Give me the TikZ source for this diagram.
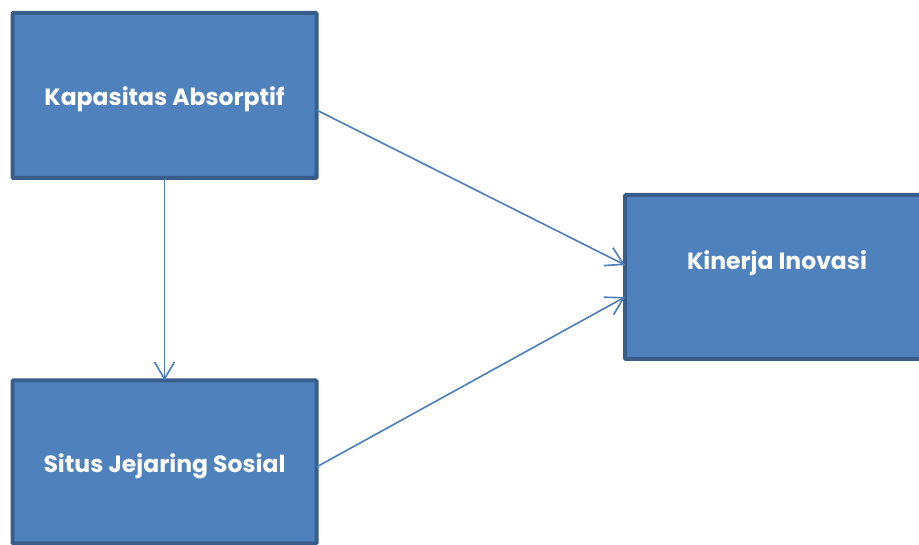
\documentclass[tikz,border=0pt]{standalone}
\usepackage{fontspec}
\setmainfont{Poppins}
\usetikzlibrary{arrows.meta,calc}
\definecolor{boxfill}{HTML}{4F81BD}
\definecolor{boxline}{HTML}{385D8A}
\definecolor{arrowc}{HTML}{4A7EBB}
\tikzset{
  box/.style={draw=boxline, fill=boxfill, line width=4pt, rounded corners=1pt,
    inner sep=0pt, outer sep=0pt},
  lbl/.style={text=white, inner sep=0pt, font=\fontsize{23.5}{26}\selectfont\bfseries},
  conn/.style={draw=arrowc, line width=1.6pt, -{Straight Barb[length=17pt,width=20pt,line width=1.6pt]}}
}
\begin{document}
\begin{tikzpicture}[x=1pt,y=1pt]
\useasboundingbox (0,0) rectangle (919,545);
\node[box, minimum width=304pt, minimum height=165pt] (ka) at (164.5,449.5) {};
\node[box, minimum width=304pt, minimum height=163pt] (si) at (164.5,83) {};
\node[box, minimum width=304pt, minimum height=164pt] (ki) at (777,268) {};
\node[lbl] (kat) at (164.5,446) {Kapasitas Absorptif};
\node[lbl] (sit) at (164.5,79) {Situs Jejaring Sosial};
\node[lbl] (kit) at (777,282) {Kinerja Inovasi};
\draw[conn] (ka.south) -- (si.north);
\draw[conn] ($(ka.east)+(0,-14.5)$) -- ($(ki.west)+(0,12)$);
\draw[conn] ($(si.east)+(0,-5)$) -- ($(ki.west)+(0,-20)$);
\end{tikzpicture}
\end{document}
